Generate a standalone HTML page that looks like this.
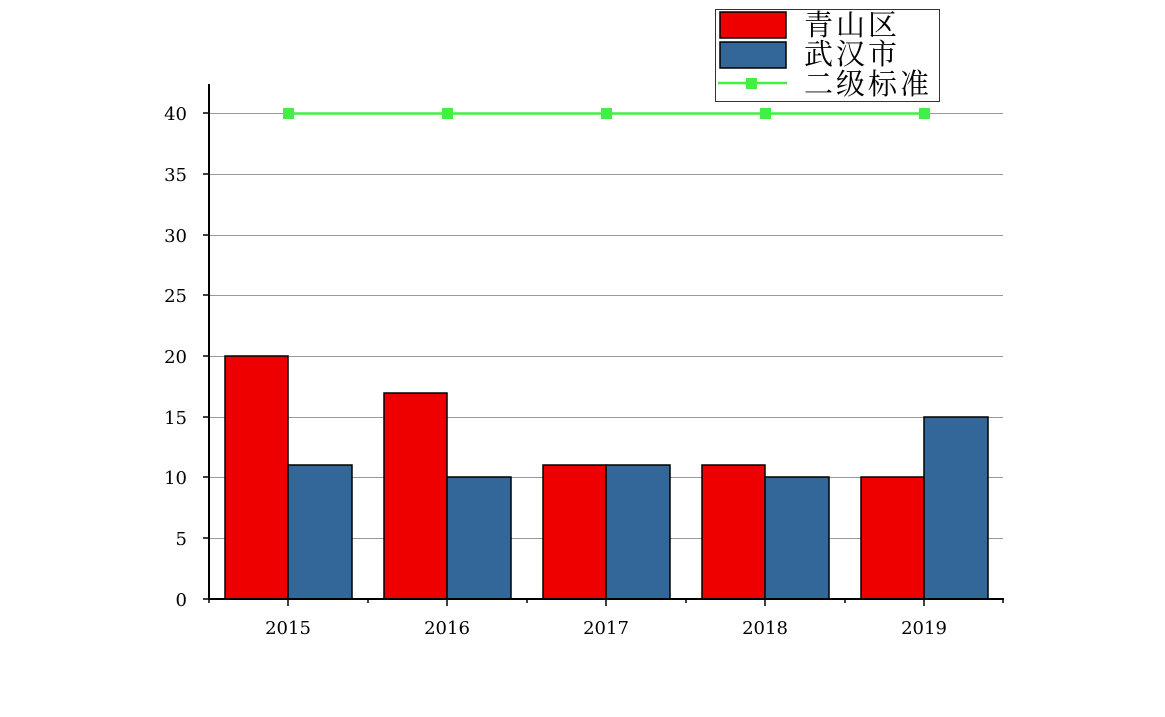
<!DOCTYPE html>
<html><head><meta charset="utf-8"><style>body{margin:0;background:#fff}svg{display:block}</style></head><body>
<svg width="1165" height="717" xmlns="http://www.w3.org/2000/svg" font-family="'DejaVu Serif','Noto Serif CJK SC',serif">
<g stroke="#999" stroke-width="1">
<line x1="209" x2="1003" y1="113.5" y2="113.5"/><line x1="209" x2="1003" y1="174.5" y2="174.5"/>
<line x1="209" x2="1003" y1="235.5" y2="235.5"/><line x1="209" x2="1003" y1="295.5" y2="295.5"/>
<line x1="209" x2="1003" y1="356.5" y2="356.5"/><line x1="209" x2="1003" y1="417.5" y2="417.5"/>
<line x1="209" x2="1003" y1="477.5" y2="477.5"/><line x1="209" x2="1003" y1="538.5" y2="538.5"/>
</g>
<g stroke="#000" stroke-width="1.5">
<rect x="225" y="356" width="63" height="243" fill="#ee0000"/><rect x="288" y="465" width="64" height="134" fill="#336699"/>
<rect x="384" y="393" width="63" height="206" fill="#ee0000"/><rect x="447" y="477" width="64" height="122" fill="#336699"/>
<rect x="543" y="465" width="63" height="134" fill="#ee0000"/><rect x="606" y="465" width="64" height="134" fill="#336699"/>
<rect x="702" y="465" width="63" height="134" fill="#ee0000"/><rect x="765" y="477" width="64" height="122" fill="#336699"/>
<rect x="861" y="477" width="63" height="122" fill="#ee0000"/><rect x="924" y="417" width="64" height="182" fill="#336699"/>
</g>
<g stroke="#000" stroke-width="2">
<line x1="209" y1="84" x2="209" y2="600"/><line x1="208" y1="599" x2="1004" y2="599"/>
</g>
<g stroke="#000" stroke-width="1.5">
<line x1="203" x2="209" y1="113" y2="113"/><line x1="203" x2="209" y1="174" y2="174"/><line x1="203" x2="209" y1="235" y2="235"/>
<line x1="203" x2="209" y1="295" y2="295"/><line x1="203" x2="209" y1="356" y2="356"/><line x1="203" x2="209" y1="417" y2="417"/>
<line x1="203" x2="209" y1="477" y2="477"/><line x1="203" x2="209" y1="538" y2="538"/><line x1="203" x2="209" y1="599" y2="599"/>
<line x1="288" x2="288" y1="599" y2="606"/><line x1="447" x2="447" y1="599" y2="606"/><line x1="606" x2="606" y1="599" y2="606"/>
<line x1="765" x2="765" y1="599" y2="606"/><line x1="924" x2="924" y1="599" y2="606"/>
<line x1="209" x2="209" y1="599" y2="603"/><line x1="368" x2="368" y1="599" y2="603"/><line x1="527" x2="527" y1="599" y2="603"/>
<line x1="686" x2="686" y1="599" y2="603"/><line x1="845" x2="845" y1="599" y2="603"/><line x1="1003" x2="1003" y1="599" y2="603"/>
</g>
<g font-size="18" text-anchor="end" fill="#000">
<text x="187" y="120">40</text><text x="187" y="181">35</text><text x="187" y="242">30</text><text x="187" y="302">25</text>
<text x="187" y="363">20</text><text x="187" y="424">15</text><text x="187" y="484">10</text><text x="187" y="545">5</text><text x="187" y="606">0</text>
</g>
<g font-size="18" text-anchor="middle" fill="#000">
<text x="288" y="634">2015</text><text x="447" y="634">2016</text><text x="606" y="634">2017</text><text x="765" y="634">2018</text><text x="924" y="634">2019</text>
</g>
<line x1="288" x2="924" y1="113.5" y2="113.5" stroke="#44ee44" stroke-width="2.5"/>
<g fill="#44ee44">
<rect x="283" y="108" width="11" height="11"/><rect x="442" y="108" width="11" height="11"/><rect x="601" y="108" width="11" height="11"/>
<rect x="760" y="108" width="11" height="11"/><rect x="919" y="108" width="11" height="11"/>
</g>
<rect x="715.5" y="9.5" width="224" height="92" fill="#fff" stroke="#333" stroke-width="1"/>
<rect x="720" y="12" width="66" height="26" fill="#ee0000" stroke="#000" stroke-width="1.5"/>
<rect x="720" y="42" width="66" height="26" fill="#336699" stroke="#000" stroke-width="1.5"/>
<line x1="718" x2="787" y1="83" y2="83" stroke="#44ee44" stroke-width="2.5"/>
<rect x="746" y="78" width="11" height="11" fill="#44ee44"/>
<g font-size="29" fill="#000" letter-spacing="3">
<text x="804" y="35">青山区</text><text x="804" y="64">武汉市</text><text x="804" y="94">二级标准</text>
</g>
</svg>
</body></html>
